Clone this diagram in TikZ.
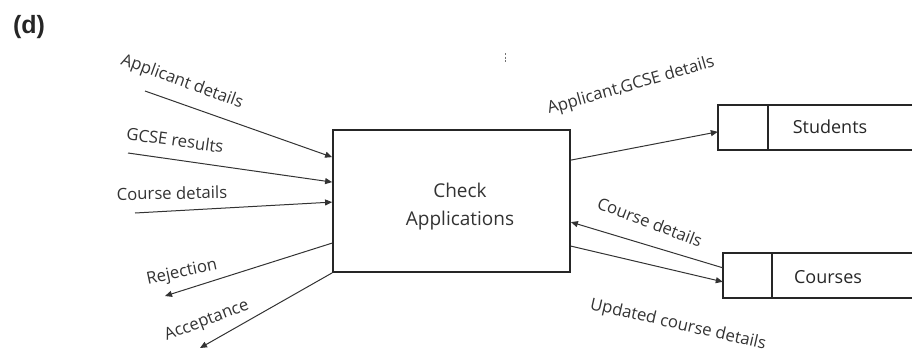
\documentclass[tikz,border=0pt]{standalone}
\usepackage{fontspec}
\setmainfont{Open Sans}
\newfontfamily\headfont{Liberation Sans}
\usetikzlibrary{arrows.meta,calc}
\begin{document}
\begin{tikzpicture}[x=1pt,y=-1pt,
  flow/.style={draw=black!80, line width=1pt, -{Triangle[length=7pt,width=6pt]}},
  lbl/.style={font=\fontsize{16.7}{19}\selectfont, text=black!80, inner sep=0pt},
  boxline/.style={draw=black!85, line width=1.8pt},
  proctext/.style={font=\fontsize{19}{28}\selectfont, text=black!80, align=center, inner sep=0pt},
  storetext/.style={font=\fontsize{18}{20}\selectfont, text=black!85, inner sep=0pt},
  storebox/.style={rectangle, inner sep=0pt}]
\useasboundingbox (0,0) rectangle (916,354);
% title
\node[font=\headfont\bfseries\fontsize{25}{28}\selectfont, text=black!85, inner sep=0pt] (title) at (29,27) {(d)};
% process
\node[boxline, rectangle, minimum width=237pt, minimum height=142pt, inner sep=0pt] (proc) at (451.5,201) {};
\node[proctext] (proclbl) at (460,207) {Check\\Applications};
% stores
\node[storebox, minimum width=194pt, minimum height=45pt] (stu) at (815,127.5) {};
\draw[boxline] (stu.north east) -- (stu.north west) -- (stu.south west) -- (stu.south east);
\draw[boxline] ([xshift=50pt]stu.north west) -- ([xshift=50pt]stu.south west);
\node[storetext] (stulbl) at (830,127) {Students};
\node[storebox, minimum width=189pt, minimum height=45pt] (crs) at (817.5,275.5) {};
\draw[boxline] (crs.north east) -- (crs.north west) -- (crs.south west) -- (crs.south east);
\draw[boxline] ([xshift=49pt]crs.north west) -- ([xshift=49pt]crs.south west);
\node[storetext] (crslbl) at (828,277) {Courses};
% free ends
\coordinate (a1) at (145,91);
\coordinate (a2) at (128,153);
\coordinate (a3) at (135,213);
\coordinate (a4) at (165,296);
\coordinate (a5) at (200,348);
% flows
\draw[flow] (a1) -- ([yshift=-28pt]proc.north west);
\draw[flow] (a2) -- ([yshift=-53pt]proc.north west);
\draw[flow] (a3) -- ([yshift=-73pt]proc.north west);
\draw[flow] ([yshift=-114pt]proc.north west) -- (a4);
\draw[flow] (proc.south west) -- (a5);
\draw[flow] ([yshift=-31pt]proc.north east) -- ([yshift=-27pt]stu.north west);
\draw[flow] ([yshift=-15pt]crs.north west) -- ([yshift=-93pt]proc.north east);
\draw[flow] ([yshift=-117pt]proc.north east) -- ([yshift=-29pt]crs.north west);
% labels
\node[lbl, rotate=-20] (l1) at (182,82) {Applicant details};
\node[lbl, rotate=-8] (l2) at (175,140) {GCSE results};
\node[lbl, rotate=1] (l3) at (172,193) {Course details};
\node[lbl, rotate=12] (l4) at (182,273) {Rejection};
\node[lbl, rotate=21] (l5) at (207,321) {Acceptance};
\node[lbl, rotate=16] (l6) at (631,86) {Applicant,GCSE details};
\node[lbl, rotate=-21] (l7) at (650,222) {Course details};
\node[lbl, rotate=-13] (l8) at (678,325) {Updated course details};
% stray mark
\draw[black!55, line width=1pt, dash pattern=on 2pt off 1.5pt] (505,53) -- (505,63);
\end{tikzpicture}
\end{document}
